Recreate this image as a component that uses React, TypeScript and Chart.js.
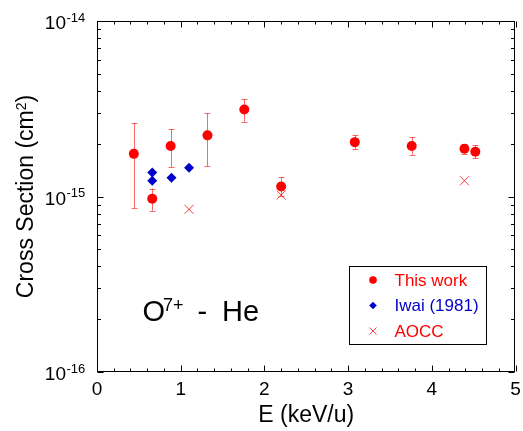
import React, { useEffect, useRef } from 'react';
import { Chart, registerables } from 'chart.js';

Chart.register(...registerables);

const FONT = '"Liberation Sans", Arial, Helvetica, sans-serif';

// This work
const thisWorkEnergy = [0.44, 0.66, 0.88, 1.32, 1.76, 2.2, 3.08, 3.76, 4.39, 4.52];
const thisWorkSigma = [1.75e-15, 0.97e-15, 1.94e-15, 2.23e-15, 3.13e-15, 1.14e-15, 2.04e-15, 1.94e-15, 1.87e-15, 1.8e-15];
const thisWorkLow = [0.86e-15, 0.83e-15, 1.47e-15, 1.49e-15, 2.67e-15, 1.01e-15, 1.86e-15, 1.73e-15, 1.75e-15, 1.65e-15];
const thisWorkHigh = [2.61e-15, 1.11e-15, 2.42e-15, 2.98e-15, 3.58e-15, 1.29e-15, 2.23e-15, 2.17e-15, 1.98e-15, 1.96e-15];

// Iwai (1981)
const iwaiEnergy = [0.66, 0.66, 0.89, 1.1];
const iwaiSigma = [1.37e-15, 1.23e-15, 1.28e-15, 1.46e-15];

// AOCC
const aoccEnergy = [1.1, 2.2, 4.39];
const aoccSigma = [0.845e-15, 1.02e-15, 1.23e-15];

// Axis ticks
const xMajorTicks = [0, 1, 2, 3, 4, 5];
const xTickLabels = ['0', '1', '2', '3', '4', '5'];
const yMajorTicks = [1e-16, 1e-15, 1e-14];
const yTickExponents = ['-16', '-15', '-14'];

const legendLabels = ['This work', 'Iwai (1981)', 'AOCC'];

const RED = '#ff0000';
const BLUE = '#0000cc';
const ERR = 'rgba(255,0,0,0.6)';
const CROSS = 'rgba(255,0,0,0.75)';

const customPlugin = {
  id: 'custom',
  beforeDatasetsDraw(chart: any) {
    const ctx = chart.ctx;
    const xs = chart.scales.x;
    const ys = chart.scales.y;
    ctx.save();
    ctx.strokeStyle = ERR;
    ctx.lineWidth = 1;
    thisWorkEnergy.forEach((e, i) => {
      const x = Math.round(xs.getPixelForValue(e)) + 0.5;
      const yl = ys.getPixelForValue(thisWorkLow[i]);
      const yh = ys.getPixelForValue(thisWorkHigh[i]);
      ctx.beginPath();
      ctx.moveTo(x, yl);
      ctx.lineTo(x, yh);
      ctx.moveTo(x - 3, Math.round(yl) + 0.5);
      ctx.lineTo(x + 3, Math.round(yl) + 0.5);
      ctx.moveTo(x - 3, Math.round(yh) + 0.5);
      ctx.lineTo(x + 3, Math.round(yh) + 0.5);
      ctx.stroke();
    });
    ctx.restore();
  },
  afterDraw(chart: any) {
    const ctx = chart.ctx;
    const xs = chart.scales.x;
    const ys = chart.scales.y;
    const { left, right, top, bottom } = chart.chartArea;
    const L = Math.floor(left) + 0.5;
    const R = Math.floor(right) - 0.5;
    const T = Math.floor(top) + 0.5;
    const B = Math.floor(bottom) - 0.5;
    ctx.save();
    ctx.strokeStyle = '#000';
    ctx.lineWidth = 1;
    ctx.strokeRect(L, T, R - L, B - T);

    // ticks
    ctx.beginPath();
    const xTick = (v: number, len: number) => {
      const px = Math.round(xs.getPixelForValue(v)) + 0.5;
      ctx.moveTo(px, B);
      ctx.lineTo(px, B - len);
      ctx.moveTo(px, T);
      ctx.lineTo(px, T + len);
    };
    const yTick = (v: number, len: number) => {
      const py = Math.round(ys.getPixelForValue(v)) + 0.5;
      ctx.moveTo(L, py);
      ctx.lineTo(L + len, py);
      ctx.moveTo(R, py);
      ctx.lineTo(R - len, py);
    };
    for (let i = 0; i < xMajorTicks.length; i++) {
      xTick(xMajorTicks[i], 6);
      if (i < xMajorTicks.length - 1) {
        for (let k = 1; k < 5; k++) xTick(xMajorTicks[i] + (k * (xMajorTicks[i + 1] - xMajorTicks[i])) / 5, 3);
      }
    }
    for (let i = 0; i < yMajorTicks.length; i++) {
      yTick(yMajorTicks[i], 6);
      if (i < yMajorTicks.length - 1) {
        for (let k = 2; k < 10; k++) yTick(yMajorTicks[i] * k, 3.5);
      }
    }
    ctx.stroke();

    // x tick labels
    ctx.fillStyle = '#000';
    ctx.font = `19px ${FONT}`;
    ctx.textAlign = 'center';
    ctx.textBaseline = 'alphabetic';
    xMajorTicks.forEach((v, i) => {
      ctx.fillText(xTickLabels[i], xs.getPixelForValue(v), 395);
    });

    // y tick labels with superscripts
    yMajorTicks.forEach((v, i) => {
      const py = ys.getPixelForValue(v);
      ctx.font = `19px ${FONT}`;
      ctx.textAlign = 'right';
      ctx.fillText('10', 66, py + 8);
      ctx.font = `13px ${FONT}`;
      ctx.textAlign = 'left';
      ctx.fillText(yTickExponents[i], 66.5, py + 0.5);
    });

    // x title
    ctx.font = `23px ${FONT}`;
    ctx.textAlign = 'center';
    ctx.fillText('E (keV/u)', (left + right) / 2, 422);

    // y title rotated with superscript
    ctx.save();
    ctx.translate(33, (top + bottom) / 2);
    ctx.rotate(-Math.PI / 2);
    ctx.textAlign = 'left';
    const partA = 'Cross Section (cm';
    const partSup = '2';
    const partB = ')';
    ctx.font = `23px ${FONT}`;
    const wA = ctx.measureText(partA).width;
    const wB = ctx.measureText(partB).width;
    ctx.font = `14px ${FONT}`;
    const wS = ctx.measureText(partSup).width;
    const total = wA + wS + wB;
    let cx = -total / 2;
    ctx.font = `23px ${FONT}`;
    ctx.fillText(partA, cx, 0);
    cx += wA;
    ctx.font = `14px ${FONT}`;
    ctx.fillText(partSup, cx, -7);
    cx += wS;
    ctx.font = `23px ${FONT}`;
    ctx.fillText(partB, cx, 0);
    ctx.restore();

    // annotation O7+ - He
    ctx.textAlign = 'left';
    ctx.font = `29px ${FONT}`;
    ctx.fillText('O', 142.5, 320.5);
    ctx.font = `18px ${FONT}`;
    ctx.fillText('7+', 163, 310.5);
    ctx.font = `29px ${FONT}`;
    ctx.fillText('-', 197.5, 320.5);
    ctx.fillText('He', 222, 320.5);

    // legend
    const lx = 349.5, ly = 266.5, lw = 137, lh = 78;
    ctx.fillStyle = '#fff';
    ctx.fillRect(lx, ly, lw, lh);
    ctx.strokeStyle = '#000';
    ctx.lineWidth = 1;
    ctx.strokeRect(lx, ly, lw, lh);
    const rows = [280, 305.5, 331];
    const mx = 373;
    // circle
    ctx.fillStyle = RED;
    ctx.beginPath();
    ctx.arc(mx, rows[0], 3.8, 0, Math.PI * 2);
    ctx.fill();
    // diamond
    ctx.fillStyle = BLUE;
    ctx.beginPath();
    ctx.moveTo(mx, rows[1] - 3.8);
    ctx.lineTo(mx + 3.8, rows[1]);
    ctx.lineTo(mx, rows[1] + 3.8);
    ctx.lineTo(mx - 3.8, rows[1]);
    ctx.closePath();
    ctx.fill();
    // cross
    ctx.strokeStyle = CROSS;
    ctx.beginPath();
    ctx.moveTo(mx - 3.5, rows[2] - 3.5);
    ctx.lineTo(mx + 3.5, rows[2] + 3.5);
    ctx.moveTo(mx + 3.5, rows[2] - 3.5);
    ctx.lineTo(mx - 3.5, rows[2] + 3.5);
    ctx.stroke();
    ctx.font = `17px ${FONT}`;
    ctx.textBaseline = 'middle';
    const colors = [RED, BLUE, RED];
    legendLabels.forEach((t, i) => {
      ctx.fillStyle = colors[i];
      ctx.fillText(t, 394.5, rows[i] + 1);
    });
    ctx.restore();
  },
};

export default function App() {
  const ref = useRef<HTMLCanvasElement>(null);
  useEffect(() => {
    const chart = new Chart(ref.current as HTMLCanvasElement, {
      type: 'scatter',
      data: {
        datasets: [
          {
            label: legendLabels[0],
            data: thisWorkEnergy.map((e, i) => ({ x: e, y: thisWorkSigma[i] })),
            pointStyle: 'circle',
            pointRadius: 5,
            backgroundColor: RED,
            borderColor: RED,
            borderWidth: 0,
          },
          {
            label: legendLabels[1],
            data: iwaiEnergy.map((e, i) => ({ x: e, y: iwaiSigma[i] })),
            pointStyle: 'rectRot',
            pointRadius: 5,
            backgroundColor: BLUE,
            borderColor: BLUE,
            borderWidth: 0,
          },
          {
            label: legendLabels[2],
            data: aoccEnergy.map((e, i) => ({ x: e, y: aoccSigma[i] })),
            pointStyle: 'crossRot',
            pointRadius: 6.5,
            backgroundColor: CROSS,
            borderColor: CROSS,
            borderWidth: 1,
          },
        ],
      },
      options: {
        animation: false,
        responsive: false,
        devicePixelRatio: 1,
        layout: { padding: { left: 97, right: 6, top: 21, bottom: 59 } },
        plugins: { legend: { display: false }, tooltip: { enabled: false }, title: { display: false } },
        scales: {
          x: { type: 'linear', min: 0, max: 5, display: false },
          y: { type: 'logarithmic', min: 1e-16, max: 1e-14, display: false },
        },
      },
      plugins: [customPlugin],
    });
    return () => chart.destroy();
  }, []);
  return (
    <div style={{ position: 'fixed', left: 0, top: 0, width: 523, height: 431, background: '#fff' }}>
      <canvas ref={ref} width={523} height={431} style={{ display: 'block', width: 523, height: 431 }} />
    </div>
  );
}
